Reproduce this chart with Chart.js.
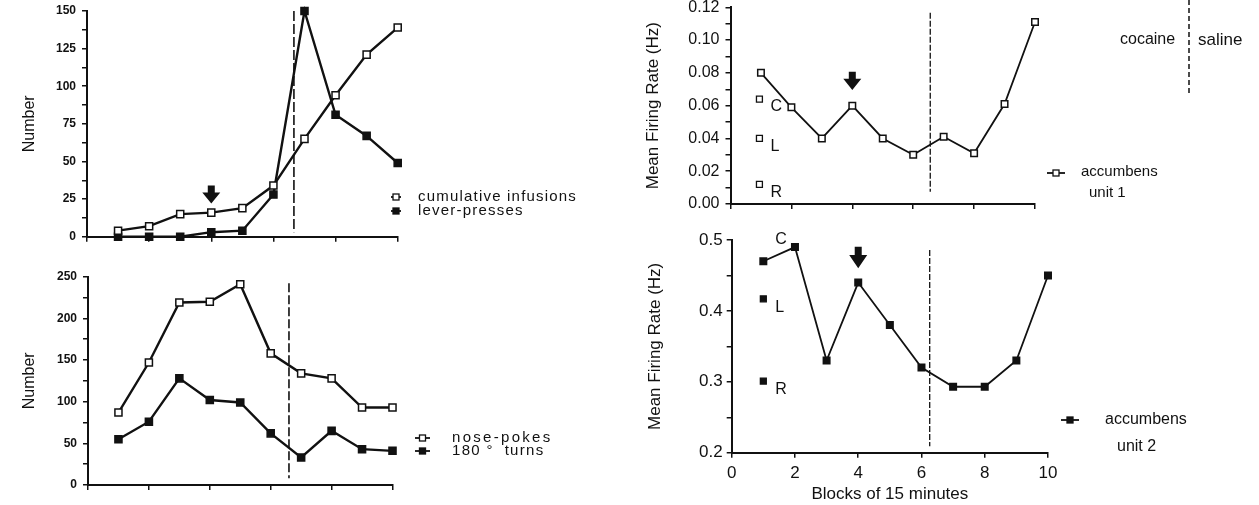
<!DOCTYPE html>
<html><head><meta charset="utf-8">
<script src="https://cdn.jsdelivr.net/npm/chart.js@4.4.0/dist/chart.umd.min.js"></script>
<style>
html,body{margin:0;padding:0;background:#fff;width:1259px;height:505px;overflow:hidden}
canvas{position:absolute;left:0;top:0}
</style></head><body>
<canvas id="c1" width="1259" height="505"></canvas>
<canvas id="c2" width="1259" height="505"></canvas>
<canvas id="c3" width="1259" height="505"></canvas>
<canvas id="c4" width="1259" height="505"></canvas>
<script>
// ---------------- DATA ----------------
const blocks = [1, 2, 3, 4, 5, 6, 7, 8, 9, 10];
const cumulativeInfusions = [4, 7, 15, 16, 19, 34, 65, 94, 121, 139];
const leverPresses = [0, 0, 0, 3, 4, 28, 150, 81, 67, 49];
const nosePokes = [87, 147, 219, 220, 241, 158, 134, 128, 93, 93];
const turns180 = [55, 76, 128, 102, 99, 62, 33, 65, 43, 41];
const unit1Rate = [0.080, 0.059, 0.040, 0.060, 0.040, 0.030, 0.041, 0.031, 0.061, 0.111];
const unit2Rate = [0.47, 0.49, 0.33, 0.44, 0.38, 0.32, 0.293, 0.293, 0.33, 0.45];
const baselineLabels = ['C', 'L', 'R'];
const unit1Baseline = [0.064, 0.040, 0.012];
const unit2Baseline = [0.513, 0.417, 0.301];
const xTickValues = [0, 2, 4, 6, 8, 10];

const FONT = "'Liberation Sans', Arial, Helvetica, sans-serif";
const INK = '#111';

function pts(xs, ys) { return ys.map((v, i) => ({ x: xs[i], y: v })); }
function fixBox(w, h) {
  return function (s) {
    if (w != null) s.width = w;
    if (h != null) s.height = h;
    s.paddingTop = 0; s.paddingBottom = 0; s.paddingLeft = 0; s.paddingRight = 0;
  };
}
function lineDs(vals, filled, r, bw) {
  return {
    data: pts(blocks, vals), borderColor: INK, borderWidth: bw,
    pointStyle: 'rect', pointRadius: r, pointBorderWidth: 1.5,
    pointBorderColor: INK, pointBackgroundColor: filled ? INK : '#fff',
    tension: 0, clip: false
  };
}
function baseDs(xv, vals, filled, r) {
  return {
    data: vals.map(v => ({ x: xv, y: v })), showLine: false,
    pointStyle: 'rect', pointRadius: r, pointBorderWidth: 1.3,
    pointBorderColor: INK, pointBackgroundColor: filled ? INK : '#fff', clip: false
  };
}
function drawArrow(ctx, x, yTop, yTip) {
  const headH = (yTip - yTop) * 0.62, sw = 7, hw = 18;
  ctx.save(); ctx.fillStyle = INK; ctx.beginPath();
  ctx.moveTo(x - sw / 2, yTop); ctx.lineTo(x + sw / 2, yTop);
  ctx.lineTo(x + sw / 2, yTip - headH); ctx.lineTo(x + hw / 2, yTip - headH);
  ctx.lineTo(x, yTip); ctx.lineTo(x - hw / 2, yTip - headH);
  ctx.lineTo(x - sw / 2, yTip - headH); ctx.closePath(); ctx.fill(); ctx.restore();
}
function vline(ctx, x, y1, y2, dash, w) {
  ctx.save(); ctx.strokeStyle = INK; ctx.lineWidth = w; ctx.setLineDash(dash);
  ctx.beginPath(); ctx.moveTo(x, y1); ctx.lineTo(x, y2); ctx.stroke(); ctx.restore();
}
function text(ctx, s, x, y, size, ls) {
  ctx.save(); ctx.fillStyle = INK; ctx.font = size + 'px ' + FONT;
  ctx.textBaseline = 'middle'; ctx.textAlign = 'left';
  if (ls) ctx.letterSpacing = ls + 'px';
  ctx.fillText(s, x, y); ctx.restore();
}
function legendMark(ctx, x1, x2, y, filled, side) {
  ctx.save(); ctx.strokeStyle = INK; ctx.lineWidth = 1.8;
  ctx.beginPath(); ctx.moveTo(x1, y); ctx.lineTo(x2, y); ctx.stroke();
  const cx = (x1 + x2) / 2;
  ctx.fillStyle = filled ? INK : '#fff'; ctx.lineWidth = 1.3;
  ctx.fillRect(cx - side / 2, y - side / 2, side, side);
  ctx.strokeRect(cx - side / 2, y - side / 2, side, side);
  ctx.restore();
}

function panel(id, o) {
  return new Chart(document.getElementById(id), {
    type: 'line',
    data: { datasets: o.datasets },
    options: {
      responsive: false, animation: false, events: [],
      layout: { padding: { left: o.area.l - o.wy, right: 1259 - o.area.r, top: o.area.t, bottom: 505 - o.area.b - o.hx } },
      plugins: { legend: { display: false }, tooltip: { enabled: false } },
      scales: {
        x: {
          type: 'linear', min: 0, max: 10, position: 'bottom',
          afterBuildTicks: s => { s.ticks = xTickValues.map(v => ({ value: v })); },
          ticks: { color: INK, font: { family: FONT, size: o.xFont || 12 }, padding: o.xPad || 4, maxRotation: 0, autoSkip: false,
                   callback: o.xLabels ? (v => String(v)) : (() => '') },
          grid: { drawOnChartArea: false, drawTicks: true, tickLength: 5, color: INK, lineWidth: 1.5 },
          border: { display: true, color: INK, width: 2 },
          title: o.xTitle ? { display: true, text: o.xTitle, color: INK, font: { family: FONT, size: 17 }, padding: 0 } : { display: false },
          afterFit: fixBox(null, o.hx)
        },
        y: {
          type: 'linear', min: o.ymin, max: o.ymax, position: 'left',
          ticks: { stepSize: o.ystep, color: INK, font: o.yFont, padding: o.yPad, autoSkip: false, callback: o.yLabel },
          grid: { drawOnChartArea: false, drawTicks: true, tickLength: 5, color: INK, lineWidth: 1.5 },
          border: { display: true, color: INK, width: 2 },
          title: { display: true, text: o.yTitle, color: INK, font: { family: FONT, size: o.yTitleSize }, padding: 0 },
          afterFit: fixBox(o.wy, null)
        }
      }
    },
    plugins: [{ id: 'annot' + id, afterDatasetsDraw: (c) => o.annot(c.ctx, c.scales.x, c.scales.y) }]
  });
}

// ---------- Top-left ----------
panel('c1', {
  area: { l: 87, r: 397.7, t: 11, b: 236.7 }, wy: 66.6, hx: 10,
  ymin: 0, ymax: 150, ystep: 12.5,
  yLabel: v => (Math.abs(v % 25) < 1e-6 ? String(v) : ''),
  yFont: { family: FONT, size: 12, weight: 'bold' }, yPad: 6,
  yTitle: 'Number', yTitleSize: 16,
  datasets: [lineDs(cumulativeInfusions, false, 5, 2.4), lineDs(leverPresses, true, 5, 2.4)],
  annot: (ctx, x, y) => {
    vline(ctx, x.getPixelForValue(6.66), y.getPixelForValue(150), y.getPixelForValue(3), [10, 3], 1.6);
    drawArrow(ctx, x.getPixelForValue(4), y.getPixelForValue(34), y.getPixelForValue(22));
    legendMark(ctx, 391, 401, 197, false, 6);
    legendMark(ctx, 391, 401, 211, true, 6);
    text(ctx, 'cumulative infusions', 418, 197, 15, 1.2);
    text(ctx, 'lever-presses', 418, 211, 15, 1.2);
  }
});

// ---------- Bottom-left ----------
panel('c2', {
  area: { l: 88, r: 392.5, t: 276.7, b: 485 }, wy: 67.6, hx: 10,
  ymin: 0, ymax: 250, ystep: 25,
  yLabel: v => (Math.abs(v % 50) < 1e-6 ? String(v) : ''),
  yFont: { family: FONT, size: 12, weight: 'bold' }, yPad: 6,
  yTitle: 'Number', yTitleSize: 16,
  datasets: [lineDs(nosePokes, false, 5, 2.4), lineDs(turns180, true, 5, 2.4)],
  annot: (ctx, x, y) => {
    vline(ctx, x.getPixelForValue(6.6), y.getPixelForValue(242), y.getPixelForValue(8), [9, 3], 1.6);
    legendMark(ctx, 415, 430, 438, false, 6);
    legendMark(ctx, 415, 430, 451, true, 6);
    text(ctx, 'nose-pokes', 452, 438, 15, 2.3);
    text(ctx, '180 \u00B0  turns', 452, 451, 15, 1.3);
  }
});

// ---------- Top-right ----------
panel('c3', {
  area: { l: 730.5, r: 1035, t: 7.3, b: 204 }, wy: 87.7, hx: 10,
  ymin: 0, ymax: 0.12, ystep: 0.01,
  yLabel: v => (Math.round(v * 100) % 2 === 0 ? v.toFixed(2) : ''),
  yFont: { family: FONT, size: 16 }, yPad: 6,
  yTitle: 'Mean Firing Rate (Hz)', yTitleSize: 17,
  datasets: [lineDs(unit1Rate, false, 4.6, 1.8), baseDs(0.95, unit1Baseline, false, 4.2)],
  annot: (ctx, x, y) => {
    vline(ctx, x.getPixelForValue(6.56), y.getPixelForValue(0.1166), y.getPixelForValue(0.0075), [6, 2], 1.3);
    drawArrow(ctx, x.getPixelForValue(4), y.getPixelForValue(0.0807), y.getPixelForValue(0.0696));
    baselineLabels.forEach((t, i) => text(ctx, t, x.getPixelForValue(0.95) + 11, y.getPixelForValue(unit1Baseline[i]) + 8, 16));
    text(ctx, 'cocaine', 1120, 40, 16);
    vline(ctx, 1189, 0, 93, [5, 3], 1.5);
    text(ctx, 'saline', 1198, 40, 17);
    legendMark(ctx, 1047, 1065, 173, false, 6);
    text(ctx, 'accumbens', 1081, 172, 15);
    text(ctx, 'unit 1', 1089, 193, 15);
  }
});

// ---------- Bottom-right ----------
panel('c4', {
  area: { l: 731.7, r: 1048, t: 240, b: 452.7 }, wy: 86.9, hx: 52,
  ymin: 0.2, ymax: 0.5, ystep: 0.05,
  yLabel: v => (Math.round(v * 100) % 10 === 0 ? v.toFixed(1) : ''),
  yFont: { family: FONT, size: 17 }, yPad: 4,
  yTitle: 'Mean Firing Rate (Hz)', yTitleSize: 17,
  xLabels: true, xFont: 17, xPad: 5, xTitle: 'Blocks of 15 minutes',
  datasets: [lineDs(unit2Rate, true, 4.6, 1.8), baseDs(1.0, unit2Baseline, true, 4.2)],
  annot: (ctx, x, y) => {
    vline(ctx, x.getPixelForValue(6.26), y.getPixelForValue(0.486), y.getPixelForValue(0.209), [6, 2], 1.3);
    drawArrow(ctx, x.getPixelForValue(4), y.getPixelForValue(0.4906), y.getPixelForValue(0.46));
    baselineLabels.forEach((t, i) => text(ctx, t, x.getPixelForValue(1.0) + 12, y.getPixelForValue(unit2Baseline[i]) + 9, 16));
    legendMark(ctx, 1061, 1079, 420, true, 6);
    text(ctx, 'accumbens', 1105, 420, 16);
    text(ctx, 'unit 2', 1117, 447, 16);
  }
});
</script>
</body></html>
